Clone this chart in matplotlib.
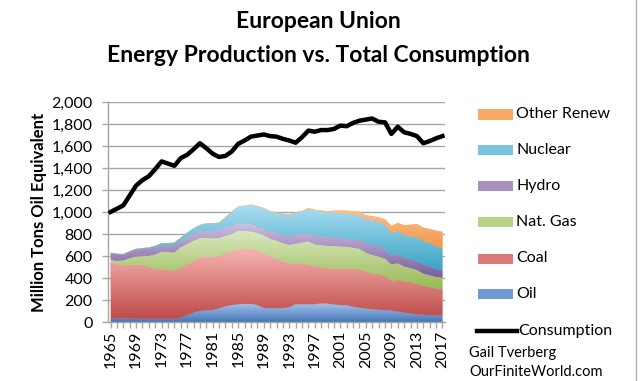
import numpy as np
import matplotlib
matplotlib.use("Agg")
import matplotlib.pyplot as plt
from matplotlib.colors import LinearSegmentedColormap
from matplotlib.patches import Rectangle
from matplotlib.lines import Line2D
from matplotlib.ticker import FuncFormatter, MultipleLocator

plt.rcParams['font.family'] = ['Lato', 'DejaVu Sans']

years = list(range(1965, 2018))

oil = [30, 32, 33, 32, 30, 30, 30, 30, 30, 30, 30, 38, 60, 85, 100, 105, 108, 125, 143, 155,
       162, 165, 165, 155, 128, 125, 125, 127, 135, 162, 162, 162, 162, 170, 168, 160, 153, 153,
       140, 130, 122, 116, 112, 108, 104, 95, 85, 78, 68, 66, 63, 61, 61]
coal = [510, 488, 480, 486, 489, 487, 470, 448, 450, 444, 436, 452, 460, 465, 490, 487, 482, 475,
        482, 485, 503, 500, 500, 493, 492, 470, 445, 423, 392, 372, 368, 358, 343, 325, 321, 325,
        331, 329, 344, 350, 330, 324, 322, 312, 269, 287, 285, 284, 277, 264, 255, 244, 238]
gas = [25, 35, 47, 62, 76, 81, 102, 137, 160, 162, 166, 190, 190, 190, 173, 173, 170, 165, 160,
       160, 165, 163, 159, 162, 170, 162, 170, 167, 175, 178, 192, 213, 200, 205, 204, 205, 203,
       202, 191, 186, 178, 170, 161, 155, 152, 152, 134, 128, 128, 110, 107, 105, 104]
hydro = [61, 60, 51, 55, 61, 64, 64, 60, 50, 54, 61, 60, 60, 60, 57, 65, 70, 75, 76, 75, 70, 67,
         68, 60, 58, 70, 70, 75, 82, 80, 80, 76, 80, 80, 82, 80, 76, 74, 75, 80, 90, 92, 95, 90,
         80, 83, 81, 80, 83, 82, 80, 75, 66]
nuclear = [2, 3, 5, 7, 7, 8, 9, 15, 24, 25, 27, 25, 40, 50, 60, 65, 65, 61, 89, 125, 147, 160,
           171, 180, 185, 178, 180, 189, 190, 200, 200, 221, 225, 225, 219, 225, 227, 227, 225,
           222, 211, 220, 222, 219, 204, 213, 205, 210, 214, 215, 215, 205, 199]
other_renew = [3, 3, 3, 3, 3, 3, 3, 3, 3, 3, 3, 3, 3, 3, 3, 4, 4, 4, 4, 4, 4, 4, 4, 4, 4, 4, 5,
               5, 5, 5, 7, 8, 10, 10, 12, 17, 24, 27, 33, 35, 40, 40, 40, 50, 66, 70, 90, 105,
               120, 120, 125, 140, 152]
consumption = [1000, 1030, 1060, 1150, 1240, 1290, 1325, 1390, 1460, 1440, 1420, 1490, 1520,
               1570, 1625, 1580, 1530, 1500, 1510, 1550, 1620, 1650, 1685, 1695, 1705, 1690,
               1685, 1665, 1650, 1630, 1680, 1740, 1730, 1745, 1745, 1755, 1785, 1780, 1810,
               1830, 1840, 1850, 1820, 1815, 1710, 1775, 1725, 1710, 1690, 1625, 1645, 1670, 1690]

labels = ["Oil", "Coal", "Nat. Gas", "Hydro", "Nuclear", "Other Renew"]
# (bottom/dark, top/light) gradient colours
grads = [("#4677b8", "#a4c2ea"),
         ("#be4b48", "#f6b3b1"),
         ("#97b954", "#dce9c1"),
         ("#7a5c9f", "#cdc0df"),
         ("#3aa4c3", "#addff3"),
         ("#f38f3c", "#fcc89a")]
legend_colors = ["#6f9ad3", "#db7b78", "#b9d386", "#a590c2", "#77c4de", "#f8aa68"]

W, H = 640, 381
fig = plt.figure(figsize=(W / 100, H / 100), dpi=100)
ax = fig.add_axes([108 / W, 1 - 322 / H, (445 - 108) / W, (322 - 102) / H])

polys = ax.stackplot(years, oil, coal, gas, hydro, nuclear, other_renew,
                     colors=legend_colors, linewidth=0, zorder=2)
for poly, (c0, c1) in zip(polys, grads):
    path = poly.get_paths()[0]
    v = path.vertices
    ymin, ymax = v[:, 1].min(), v[:, 1].max()
    cmap = LinearSegmentedColormap.from_list("g", [c0, c1])
    grad = np.linspace(0, 1, 256).reshape(-1, 1)
    im = ax.imshow(grad, extent=[years[0], years[-1], ymin, ymax], origin="lower",
                   aspect="auto", cmap=cmap, zorder=2.1, interpolation="bilinear")
    im.set_clip_path(path, ax.transData)

ax.plot(years, consumption, color="black", lw=3.2, zorder=5, solid_joinstyle="round")

ax.set_xlim(1964.6, 2017.4)
ax.set_ylim(0, 2000)
ax.set_aspect("auto")

ax.yaxis.set_major_locator(MultipleLocator(200))
ax.yaxis.set_major_formatter(FuncFormatter(lambda v, p: f"{int(v):,}"))
ax.set_xticks(years[::4])
ax.set_xticklabels([str(y) for y in years[::4]], rotation=90)
ax.set_xticks(years, minor=True)

ax.grid(axis="y", color="#a6a6a6", lw=1.0, zorder=0)
ax.set_axisbelow(True)
for s in ["top", "right"]:
    ax.spines[s].set_visible(False)
for s in ["left", "bottom"]:
    ax.spines[s].set_color("#a6a6a6")
    ax.spines[s].set_linewidth(1.0)
ax.tick_params(axis="both", which="both", color="#a6a6a6", length=4, width=1.0,
               labelsize=11.5, labelcolor="black")
ax.tick_params(axis="x", which="major", pad=2)
ax.tick_params(axis="y", which="major", pad=7)

ax.set_ylabel("Million Tons Oil Equivalent", fontsize=12, fontweight="bold", labelpad=3)

fig.text(318 / W, 1 - 22 / H, "European Union", ha="center", va="center",
         fontsize=16.5, fontweight="bold")
fig.text(318 / W, 1 - 56 / H, "Energy Production vs. Total Consumption", ha="center",
         va="center", fontsize=16.5, fontweight="bold")

# legend (manual, top to bottom)
ys = [114.5, 150, 186.5, 222, 258.5, 294]
for lab, col, y in zip(labels[::-1], legend_colors[::-1], ys):
    fig.add_artist(Rectangle((478 / W, 1 - (y + 5) / H), 35 / W, 10 / H,
                             transform=fig.transFigure, facecolor=col, edgecolor="none"))
    fig.text(516 / W, 1 - y / H, lab, ha="left", va="center", fontsize=11.5)
fig.add_artist(Line2D([477 / W, 517 / W], [1 - 331 / H, 1 - 331 / H],
                      transform=fig.transFigure, color="black", lw=3.2))
fig.text(518 / W, 1 - 331 / H, "Consumption", ha="left", va="center", fontsize=11.5)
fig.text(469 / W, 1 - 353 / H, "Gail Tverberg", ha="left", va="center", fontsize=10.5)
fig.text(469 / W, 1 - 372 / H, "OurFiniteWorld.com", ha="left", va="center", fontsize=10.5)

fig.add_artist(Line2D([636 / W, 636 / W], [0, 1], transform=fig.transFigure,
                      color="#b0b0b0", lw=1))

fig.savefig("out.png", dpi=100)
